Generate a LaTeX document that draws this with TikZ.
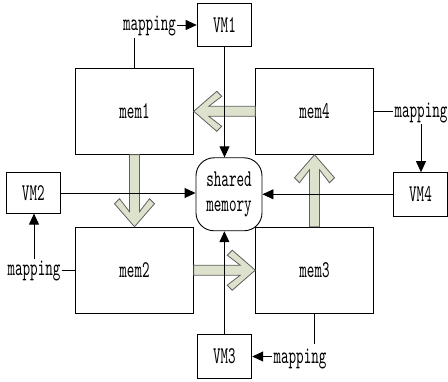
\documentclass[tikz,border=0pt]{standalone}
\usepackage{fontspec}
\newfontfamily\labelfont[FakeStretch=0.6]{lmmono10-regular.otf}
\usetikzlibrary{arrows.meta,calc}
\definecolor{arrowfill}{RGB}{221,226,204}
\definecolor{arrowedge}{RGB}{95,95,95}

\tikzset{
  every node/.style={font=\labelfont\fontsize{24}{25}\selectfont, inner sep=1pt},
  vmbox/.style={draw, line width=0.9pt, minimum width=54.7pt, minimum height=43.4pt},
  membox/.style={draw, line width=0.9pt, minimum width=117.6pt, minimum height=86pt},
  shmbox/.style={draw, line width=0.9pt, rounded corners=18pt,
    minimum width=66pt, minimum height=73pt, align=center},
  link/.style={line width=0.9pt},
  tolink/.style={link, -{Triangle[length=11pt,width=10pt]}},
  fatarrow/.style={fill=arrowfill, draw=arrowedge, line width=0.8pt, line join=miter}
}

% broad chevron arrow from #1 with its tip at #2
\newcommand\fatarrow[2]{%
  \draw[fatarrow] (#2)
    -- ($(#2)!23pt!(#1)!20pt!90:(#1)$)
    -- ($(#2)!28pt!(#1)!15pt!90:(#1)$)
    -- ($(#2)!15pt!(#1)!5pt!90:(#1)$)
    -- ($(#1)!5pt!-90:(#2)$)
    -- ($(#1)!5pt!90:(#2)$)
    -- ($(#2)!15pt!(#1)!5pt!-90:(#1)$)
    -- ($(#2)!28pt!(#1)!15pt!-90:(#1)$)
    -- ($(#2)!23pt!(#1)!20pt!-90:(#1)$)
    -- cycle;}

\begin{document}
\begin{tikzpicture}[x=1pt, y=-1pt]
\useasboundingbox (0,0) rectangle (448,382);

% memory blocks
\node[membox] (mem1) at (134.5,111.3) {mem1};
\node[membox] (mem4) at (314.5,111.3) {mem4};
\node[membox] (mem2) at (134.5,270.2) {mem2};
\node[membox] (mem3) at (314.5,270.2) {mem3};

% shared region in the middle
\node[shmbox] (shm) at (229,194.3) {shared\\memory};

% virtual machines
\node[vmbox] (vm1) at (224.5,25) {VM1};
\node[vmbox, minimum height=40.3pt] (vm2) at (33.3,193) {VM2};
\node[vmbox] (vm3) at (224.4,356.5) {VM3};
\node[vmbox, minimum width=54pt] (vm4) at (420.5,194.3) {VM4};

% mapping labels
\node (map1) at (149.5,26) {mapping};
\node (map2) at (34,270.5) {mapping};
\node (map3) at (300,358.5) {mapping};
\node (map4) at (421,113) {mapping};

% data movement between the blocks
\fatarrow{mem4.west}{mem1.east}
\fatarrow{mem1.south}{mem2.north}
\fatarrow{mem2.east}{mem3.west}
\fatarrow{mem3.north}{mem4.south}

% machines reach the shared region
\draw[tolink] (vm1.south) -- (vm1.south |- shm.north);
\draw[tolink] (vm2.east) -- (vm2.east -| shm.west);
\draw[tolink] (vm3.north) -- (vm3.north |- shm.south);
\draw[tolink] (vm4.west) -- (vm4.west -| shm.east);

% mapping of each block onto its machine
\draw[link] (mem1.north) -- ++(0,-30);
\draw[tolink] (map1.east |- vm1.west) -- (vm1.west);
\draw[link] (map2.east) -- (map2.east -| mem2.west);
\draw[tolink] (map2.north) -- (map2.north |- vm2.south);
\draw[link] (mem3.south) -- ++(0,30);
\draw[tolink] (map3.west |- vm3.east) -- (vm3.east);
\draw[link] (mem4.east) -- (mem4.east -| map4.west);
\draw[tolink] (map4.south) -- (map4.south |- vm4.north);
\end{tikzpicture}
\end{document}
